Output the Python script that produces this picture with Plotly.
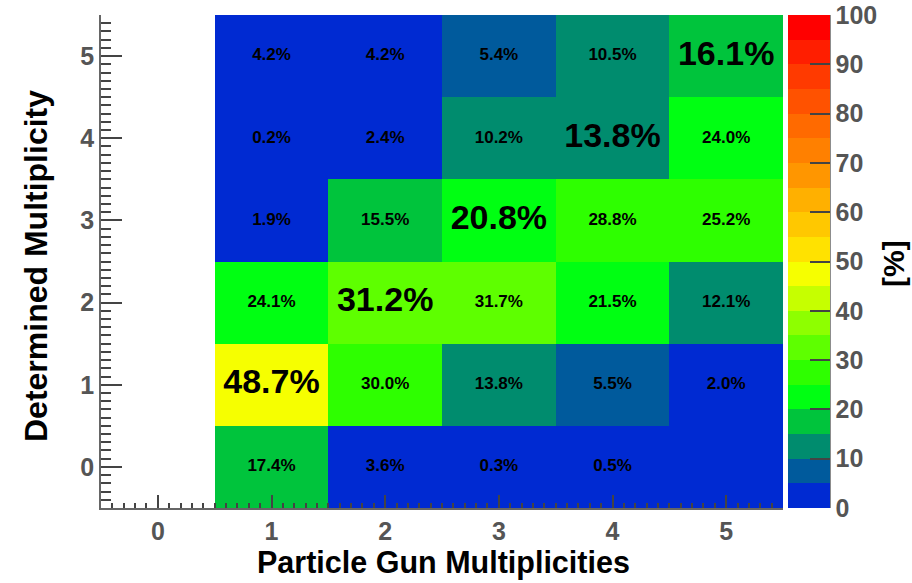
import plotly.graph_objects as go

# Multiplicity bins
gun_mult = [0, 1, 2, 3, 4, 5]
det_mult = [0, 1, 2, 3, 4, 5]

# Fraction of events [%]; rows = determined multiplicity, columns = particle gun multiplicity
pct = [
    [None, 17.4, 3.6, 0.3, 0.5, 0.0],
    [None, 48.7, 30.0, 13.8, 5.5, 2.0],
    [None, 24.1, 31.2, 31.7, 21.5, 12.1],
    [None, 1.9, 15.5, 20.8, 28.8, 25.2],
    [None, 0.2, 2.4, 10.2, 13.8, 24.0],
    [None, 4.2, 4.2, 5.4, 10.5, 16.1],
]

cbar_ticks = [0, 10, 20, 30, 40, 50, 60, 70, 80, 90, 100]

# 20-step rainbow palette, 5 % per step (0 -> 100)
palette = [
    "#002ad2", "#005a9c", "#008c6e", "#00c43c", "#00ff12",
    "#2eff00", "#5eff00", "#8eff00", "#c6ff00", "#f6ff00",
    "#ffe200", "#ffc800", "#ffb000", "#ff9600", "#ff8000",
    "#ff6a00", "#ff5200", "#ff3a00", "#ff1e00", "#ff0000",
]
n = len(palette)
colorscale = []
for i, c in enumerate(palette):
    colorscale.append([i / n, c])
    colorscale.append([(i + 1) / n, c])

FONT = "Liberation Sans, Arial, Helvetica, sans-serif"
GRAY = "#555555"
TICK = "#444444"

# plot area in pixels
L, R, T, B = 101, 783, 15, 508
W, H = 912, 583

fig = go.Figure()

fig.add_trace(go.Heatmap(
    x=gun_mult, y=det_mult, z=pct,
    zmin=0, zmax=100.01,
    colorscale=colorscale,
    hoverinfo="skip",
    colorbar=dict(
        x=(788 - L) / (R - L), xanchor="left", xpad=0,
        y=0, yanchor="bottom", ypad=0,
        len=1, lenmode="fraction",
        thickness=42, thicknessmode="pixels",
        outlinewidth=0,
        tickvals=cbar_ticks,
        ticks="inside", ticklen=20, tickwidth=1.5, tickcolor=TICK,
        tickfont=dict(family=FONT, size=25, color=GRAY, weight="bold"),
    ),
))

# Cell labels: diagonal cells in large type, the rest small
sx, sy, st, bx, by, bt = [], [], [], [], [], []
for iy, row in enumerate(pct):
    for ix, v in enumerate(row):
        if v is None or v == 0:
            continue
        label = f"{v:.1f}%"
        if gun_mult[ix] == det_mult[iy]:
            bx.append(gun_mult[ix]); by.append(det_mult[iy]); bt.append(label)
        else:
            sx.append(gun_mult[ix]); sy.append(det_mult[iy]); st.append(label)

fig.add_trace(go.Scatter(
    x=sx, y=sy, text=st, mode="text", hoverinfo="skip", showlegend=False,
    textfont=dict(family=FONT, size=17, color="black", weight="bold"),
))
fig.add_trace(go.Scatter(
    x=bx, y=by, text=bt, mode="text", hoverinfo="skip", showlegend=False,
    textfont=dict(family=FONT, size=34, color="black", weight="bold"),
))

axis_common = dict(
    showgrid=False, zeroline=False, layer="above traces",
    showline=True, linecolor="#666666", linewidth=1.5,
    ticks="inside", tickcolor=TICK, tickwidth=1.5,
    tickfont=dict(family=FONT, size=25, color=GRAY, weight="bold"),
    tickmode="array", tickvals=[0, 1, 2, 3, 4, 5],
)

fig.update_layout(
    width=W, height=583,
    margin=dict(l=L, r=W - R, t=T, b=H - B),
    paper_bgcolor="white", plot_bgcolor="white",
    showlegend=False,
    xaxis=dict(
        axis_common, range=[-0.5, 5.5], ticklen=13,
        minor=dict(ticks="inside", dtick=0.1, tick0=0, ticklen=5, tickcolor=TICK, tickwidth=1.5),
    ),
    yaxis=dict(
        axis_common, range=[-0.5, 5.5], ticklen=21,
        minor=dict(ticks="inside", dtick=0.1, tick0=0, ticklen=10, tickcolor=TICK, tickwidth=1.5),
    ),
    annotations=[
        dict(text="Particle Gun Multiplicities", xref="paper", yref="paper",
             x=(443 - L) / (R - L), y=-(562 - B) / (B - T),
             xanchor="center", yanchor="middle", showarrow=False,
             font=dict(family=FONT, size=30.5, color="black", weight="bold")),
        dict(text="Determined Multiplicity", xref="paper", yref="paper",
             x=-(L - 36) / (R - L), y=(B - 266) / (B - T),
             xanchor="center", yanchor="middle", textangle=-90, showarrow=False,
             font=dict(family=FONT, size=32, color="black", weight="bold")),
        dict(text="[%]", xref="paper", yref="paper",
             x=(893 - L) / (R - L), y=(B - 264) / (B - T),
             xanchor="center", yanchor="middle", textangle=-90, showarrow=False,
             font=dict(family=FONT, size=30, color="black", weight="bold")),
    ],
    shapes=[dict(
        type="line", xref="paper", yref="paper",
        x0=(830 - L) / (R - L), x1=(830 - L) / (R - L), y0=0, y1=1,
        line=dict(color="#666666", width=1.5),
    )],
)

fig.write_html("out.html")
